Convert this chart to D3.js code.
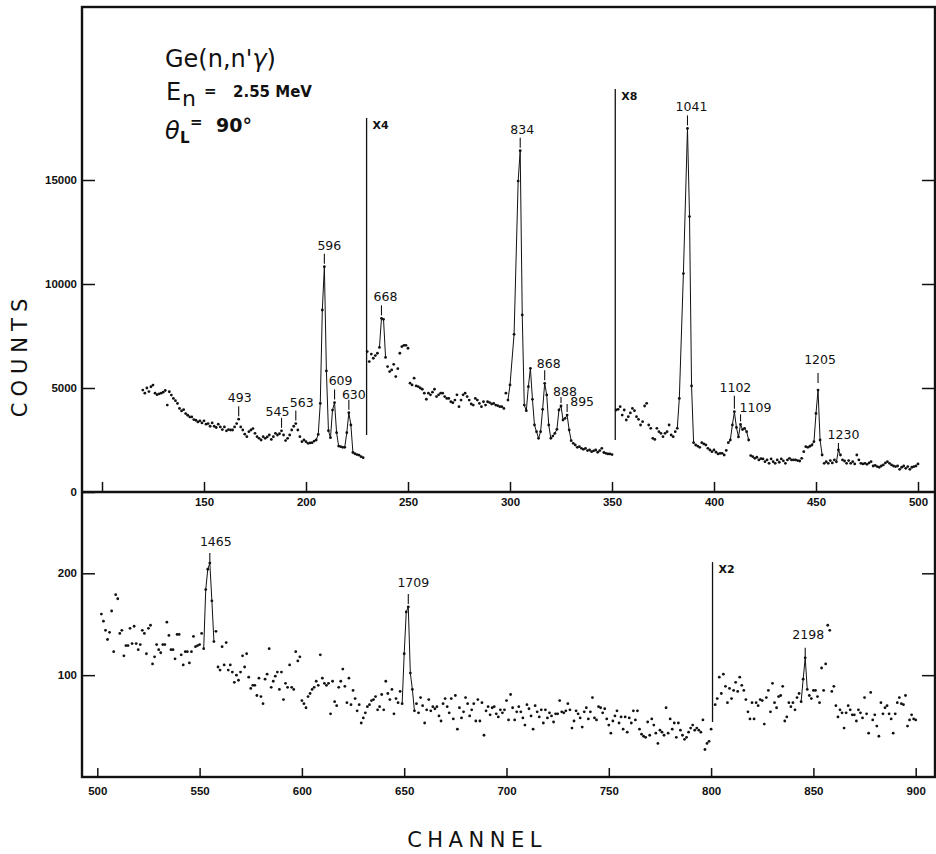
<!DOCTYPE html>
<html>
<head>
<meta charset="utf-8">
<script src="https://cdn.jsdelivr.net/npm/d3@7"></script>
<style>
  body { margin: 0; background: #fff; }
  svg { display: block; font-family: "DejaVu Sans", sans-serif; }
  .tick text { font-size: 11.5px; font-weight: bold; fill: #111; }
  .tick line { stroke: #111; stroke-width: 1.5; }
  .peak-label { font-size: 12.5px; fill: #111; text-anchor: middle; }
  .gain-label { font-size: 11px; font-weight: bold; fill: #111; }
  .axis-title { font-size: 21px; fill: #111; text-anchor: middle; }
</style>
</head>
<body>
<svg id="chart" width="936" height="854"></svg>
<script>
// DATA: one value per channel, null where no point is plotted

// upper panel, channels 120..500 (already scaled by the x4 / x8 factors)
const upperStart = 120;
const upperCounts = [
  4900, 4750, 5000, 4830, 5060, 5140, 4750, 4680, 4720, 4750, // 120
  4800, 4880, 4180, 4820, 4660, 4500, 4390, 4260, 4020, 3900, // 130
  3960, 3770, 3690, 3610, 3610, 3480, 3450, 3370, 3420, 3320, // 140
  3420, 3260, 3290, 3160, 3320, 3160, 3100, 3260, 3130, 3000, // 150
  3130, 2940, 3000, 2980, 2980, 3130, 3290, 3500, 3130, 2980, // 160
  2780, 2660, 2900, 2980, 3050, 2820, 2660, 2580, 2500, 2660, // 170
  2580, 2650, 2740, 2530, 2660, 2820, 2740, 2800, 2940, 2740, // 180
  2470, 2580, 2740, 2980, 3160, 3290, 2980, 2660, 2420, 2500, // 190
  2420, 2340, 2360, 2370, 2450, 2500, 2770, 4260, 8750, 10830, // 200
  5820, 2950, 2610, 3940, 4300, 2850, 2210, 2180, 2150, 2150, // 210
  2850, 3810, 3220, 1900, 1840, 1800, 1770, 1700, 1650, null, // 220
  6750, 6270, 6630, 6430, 6560, 6670, 6950, 8350, 8300, 6470, // 230
  6030, 5790, 5870, 6140, 5550, 5930, 6670, 6990, 7050, 7050, // 240
  6910, 5230, 5150, 5470, 5100, 5070, 5000, 4940, 4750, 4460, // 250
  4750, 4670, 4800, 4940, 4590, 4670, 4750, 4750, 4590, 4500, // 260
  4500, 4340, 4290, 4420, 4670, 4100, 4420, 4670, 4750, 4590, // 270
  4420, 4230, 4180, 4500, 4420, 4260, 4100, 4340, 4180, 4340, // 280
  4300, 4230, 4260, 4180, 4150, 4100, 4100, 4020, 4750, 4420, // 290
  5150, null, 7580, null, 14950, 16410, 8510, 4180, 3910, 5065, // 300
  5945, 4457, 3220, 2900, 2580, 2900, 3975, 5225, 4665, 3220, // 310
  2580, 2690, 2820, 3015, 3943, 4135, 3462, 3543, 3700, 2980, // 320
  2466, 2340, 2260, 2150, 2180, 2100, 2050, 2100, 1990, 2020, // 330
  1940, 1980, 2020, 1910, 1990, 2100, 1900, 1860, 1830, 1830, // 340
  1800, null, 3943, 3975, 4100, 3700, 3943, 3462, 3622, 3800, // 350
  4020, 3910, 3622, 3495, 3220, 3380, 4135, 4264, 3220, 3063, // 360
  2580, 2530, 3063, 2900, 2820, 2660, 2820, 2900, 3220, 2740, // 370
  2660, 2900, 3063, 4500, null, 10500, null, 17480, 13240, 5100, // 380
  2370, 2260, 2210, 2150, 2370, 2310, 2260, 2100, 2020, 1940, // 390
  2020, 1910, 1830, 1860, 1860, 1780, 2000, 2370, 2500, 3220, // 400
  3860, 3100, 2650, 3250, 3000, 3060, 2900, 2500, 1750, 1700, // 410
  1620, 1670, 1540, 1600, 1590, 1460, 1540, 1380, 1590, 1460, // 420
  1380, 1540, 1430, 1590, 1500, 1380, 1540, 1620, 1540, 1540, // 430
  1540, 1510, 1490, 1620, 1940, 2180, 2150, 2200, 2260, 2420, // 440
  3780, 4900, 2500, 1780, 1380, 1460, 1380, 1510, 1400, 1540, // 450
  1450, 2020, 1780, 1540, 1490, 1380, 1510, 1380, 1460, 1350, // 460
  1780, 1540, 1380, 1350, 1380, 1330, 1400, 1460, 1250, 1280, // 470
  1220, 1190, 1250, 1300, 1400, 1460, 1380, 1300, 1250, 1220, // 480
  1250, 1090, 1190, 1250, 1140, 1220, 1090, 1190, 1220, 1250, 1350 // 490..500
];

// lower panel, channels 502..900 (x2 from channel 801 on)
const lowerStart = 502;
const lowerCounts = [
  160, 153, 144, 135, 142, 163, 123, 179, 175, 141, // 502
  144, 119, 129, 129, 146, 131, 148, 131, 125, 130, // 512
  144, 141, 121, 146, 149, 111, 118, 130, 125, 122, // 522
  130, 130, 152, 139, 125, 125, 116, 140, 140, 120, // 532
  110, 123, 123, 112, 123, 138, 128, 129, 130, 141, // 542
  126, 184, 204, 210, 173, 133, 143, 108, 105, 128, // 552
  110, 132, 105, 110, 103, 93, 100, 95, 103, 119,   // 562
  108, 121, 98, 87, 90, 90, 80, 97, 79, 72,         // 572
  96, 101, 126, 88, 94, 99, 103, 86, 103, 76,       // 582
  92, 88, 110, 88, 86, 123, 114, 118, 75, 72,       // 592
  68, 79, 82, 86, 88, 94, 90, 120, 97, 92,          // 602
  90, 92, 62, 94, 74, 70, 88, 94, 106, 89,          // 612
  73, 97, 71, 85, 77, 65, 71, 53, 58, 63,           // 622
  69, 71, 75, 76, 79, 66, 69, 81, 66, 94,           // 632
  82, 76, 86, 62, 77, 73, 84, 72, 121, 162,         // 642
  167, 102, 86, 65, 72, 63, 78, 70, 53, 66,         // 652
  76, 65, 69, 67, 69, 60, 55, 72, 77, 69,           // 662
  63, 77, 57, 80, 47, 68, 58, 64, 78, 72,           // 672
  60, 66, 72, 55, 76, 55, 73, 41, 65, 69,           // 682
  61, 68, 69, 62, 59, 66, 63, 66, 75, 56,           // 692
  81, 68, 56, 64, 69, 64, 58, 51, 71, 67,           // 702
  60, 47, 70, 64, 59, 66, 53, 66, 58, 63,           // 712
  60, 54, 62, 62, 75, 64, 63, 65, 72, 66,           // 722
  48, 55, 65, 62, 58, 49, 64, 68, 57, 64,           // 732
  78, 58, 56, 69, 68, 63, 67, 57, 51, 43,           // 742
  55, 60, 65, 53, 59, 47, 59, 44, 58, 53,           // 752
  65, 56, 65, 47, 42, 40, 39, 54, 41, 57,           // 762
  51, 43, 33, 46, 44, 41, 68, 43, 57, 47,           // 772
  53, 39, 53, 46, 41, 37, 39, 44, 48, 51,           // 782
  46, 48, 46, 44, 56, 27, 33, 35, 47, null,         // 792
  71, 77, 98, 82, 101, 89, 73, 87, 77, 85,          // 802
  93, 84, 98, 90, 85, 76, 64, 57, 73, 57,           // 812
  73, 70, 76, 75, 52, 78, 85, 64, 92, 73,           // 822
  68, 79, 80, 89, 55, 59, 73, 69, 73, 66,           // 832
  78, 82, 74, 96, 117, 86, 80, 77, 85, 85,          // 842
  79, 73, 107, 85, 111, 149, 144, 84, 89, 70,       // 852
  59, 66, 63, 48, 63, 70, 66, 61, 61, 55,           // 862
  66, 63, 58, 78, 62, 43, 83, 56, 61, 50,           // 872
  40, 73, 62, 68, 70, 62, 57, 43, 62, 73,           // 882
  78, 72, 71, 80, 50, 56, 61, 57, 56                // 892..900
];

// channel runs whose points are joined by a line
const upperRuns = [[205, 223], [236, 239], [299, 330], [382, 390], [407, 417], [448, 453], [460, 462]];
const lowerRuns = [[552, 557], [649, 655], [844, 847]];

// axis ticks
const upperXTicks = [100, 150, 200, 250, 300, 350, 400, 450, 500];
const lowerXTicks = [500, 550, 600, 650, 700, 750, 800, 850, 900];
const upperYTicks = [0, 5000, 10000, 15000];
const lowerYTicks = [100, 200];

// peak energies (keV) and the channel of the peak
const peakNames = ["493", "545", "563", "596", "609", "630", "668", "834", "868", "888", "895", "1041", "1102", "1109", "1205", "1230", "1465", "1709", "2198"];
const peakChannels = [167, 188, 195, 209, 214, 221, 237, 305, 317, 325, 328, 387, 410, 413, 451, 461, 555, 652, 846];

// gain changes: label, channel, line from / to counts
const gainNames = ["X4", "X8", "X2"];
const gainChannels = [229.7, 351.6, 800.7];
const gainFrom = [2740, 2500, 54];
const gainTo = [17980, 19370, 211];

// LAYOUT
const frame = { left: 82, right: 935, top: 7, mid: 492, bottom: 777 };
// small hand-lettering offsets of some peak labels: dx, lift, tick length, label dy
const labelNudge = {
  "493": [1], "545": [-4, 0, 10, 2], "563": [6], "596": [5], "609": [6, 0, 10, -1], "630": [5, 0, 10, 3],
  "668": [4], "834": [2], "868": [4, 0, 10, 2], "888": [4, 0, 6, 3], "895": [15, 0, 8, 6],
  "1041": [4], "1102": [1, 0, 13, 0], "1109": [15, 0, 7, 2], "1205": [2, 4, 10, -5],
  "1230": [5, -3, 7, 0], "1465": [6, -3, 10, -3], "1709": [5, 0, 10, -3], "2198": [3, -3, 10, -5]
};

const svg = d3.select("#chart");

// SCALES
const xUpper = d3.scaleLinear().domain([100, 500]).range([102, 918]);
const yUpper = d3.scaleLinear().domain([0, 15000]).range([frame.mid, 180]);
const xLower = d3.scaleLinear().domain([500, 900]).range([97.3, 915.7]);
const yLower = d3.scaleLinear().domain([0, 200]).range([frame.bottom, 573.3]);

const panels = [
  { start: upperStart, counts: upperCounts, runs: upperRuns, x: xUpper, y: yUpper },
  { start: lowerStart, counts: lowerCounts, runs: lowerRuns, x: xLower, y: yLower }
];

// FRAME
svg.append("rect")
  .attr("x", frame.left).attr("y", frame.top)
  .attr("width", frame.right - frame.left).attr("height", frame.bottom - frame.top)
  .attr("fill", "none").attr("stroke", "#111").attr("stroke-width", 2.4);
svg.append("line")
  .attr("x1", frame.left).attr("x2", frame.right)
  .attr("y1", frame.mid).attr("y2", frame.mid)
  .attr("stroke", "#111").attr("stroke-width", 2.4);

// AXES
const plain = d3.format("d");
const axisUpX = svg.append("g")
  .attr("transform", `translate(0,${frame.mid})`)
  .call(d3.axisBottom(xUpper).tickValues(upperXTicks).tickSize(-10).tickPadding(6)
    .tickFormat(d => d === 100 ? "" : plain(d)));
const axisLowX = svg.append("g")
  .attr("transform", `translate(0,${frame.bottom})`)
  .call(d3.axisBottom(xLower).tickValues(lowerXTicks).tickSize(-9).tickPadding(10).tickFormat(plain));
const axisUpY = svg.append("g")
  .attr("transform", `translate(${frame.left},0)`)
  .call(d3.axisLeft(yUpper).tickValues(upperYTicks).tickSize(-13).tickPadding(5).tickFormat(plain));
const axisLowY = svg.append("g")
  .attr("transform", `translate(${frame.left},0)`)
  .call(d3.axisLeft(yLower).tickValues(lowerYTicks).tickSize(-13).tickPadding(5).tickFormat(plain));
const axisUpR = svg.append("g")
  .attr("transform", `translate(${frame.right},0)`)
  .call(d3.axisRight(yUpper).tickValues(upperYTicks.slice(1)).tickSize(-13).tickFormat(""));
const axisLowR = svg.append("g")
  .attr("transform", `translate(${frame.right},0)`)
  .call(d3.axisRight(yLower).tickValues(lowerYTicks).tickSize(-13).tickFormat(""));

[axisUpX, axisLowX, axisUpY, axisLowY, axisUpR, axisLowR].forEach(g => g.select(".domain").remove());

// SPECTRA: dots, with lines through the peaks
panels.forEach(p => {
  const pts = p.counts.map((v, i) => ({ ch: p.start + i, v: v })).filter(d => d.v != null);
  const line = d3.line().x(d => p.x(d.ch)).y(d => p.y(d.v));

  p.runs.forEach(([a, b]) => {
    svg.append("path")
      .datum(pts.filter(d => d.ch >= a && d.ch <= b))
      .attr("d", line)
      .attr("fill", "none")
      .attr("stroke", "#111")
      .attr("stroke-width", 1);
  });

  svg.append("g").selectAll("circle")
    .data(pts)
    .join("circle")
    .attr("cx", d => p.x(d.ch))
    .attr("cy", d => p.y(d.v))
    .attr("r", 1.4)
    .attr("fill", "#111");
});

// PEAK LABELS
peakNames.forEach((name, i) => {
  const ch = peakChannels[i];
  const p = ch > 500 ? panels[1] : panels[0];
  const v = p.counts[ch - p.start];
  const [dx = 0, lift = 0, len = 10, ldy = 0] = labelNudge[name] || [];
  const x = p.x(ch);
  const bottom = p.y(v) - 3 - lift;
  const top = bottom - len;
  svg.append("line")
    .attr("x1", x).attr("x2", x).attr("y1", top).attr("y2", bottom)
    .attr("stroke", "#111").attr("stroke-width", 1.1);
  svg.append("text")
    .attr("class", "peak-label")
    .attr("x", x + dx)
    .attr("y", top - 4 + ldy)
    .text(name);
});

// GAIN CHANGE MARKERS
gainNames.forEach((name, i) => {
  const p = gainChannels[i] > 500 ? panels[1] : panels[0];
  const x = p.x(gainChannels[i]);
  svg.append("line")
    .attr("x1", x).attr("x2", x)
    .attr("y1", p.y(gainFrom[i])).attr("y2", p.y(gainTo[i]))
    .attr("stroke", "#111").attr("stroke-width", 1.3);
  svg.append("text")
    .attr("class", "gain-label")
    .attr("x", x + 6)
    .attr("y", p.y(gainTo[i]) + 11)
    .text(name);
});

// AXIS TITLES
svg.append("text")
  .attr("class", "axis-title")
  .attr("transform", "translate(27,355) rotate(-90)")
  .attr("letter-spacing", 6)
  .text("COUNTS");
svg.append("text")
  .attr("class", "axis-title")
  .attr("x", 477).attr("y", 847)
  .attr("font-size", 22)
  .attr("letter-spacing", 5.5)
  .text("CHANNEL");

// REACTION NOTE
const note = svg.append("g").attr("fill", "#111");
const title = note.append("text").attr("x", 165).attr("y", 67).attr("font-size", 24);
title.append("tspan").text("Ge(n,n'");
title.append("tspan").attr("font-style", "italic").text("γ");
title.append("tspan").text(")");
note.append("text").attr("x", 166).attr("y", 100).attr("font-size", 24).text("E");
note.append("text").attr("x", 182).attr("y", 106).attr("font-size", 22).text("n");
note.append("text").attr("x", 204).attr("y", 96).attr("font-size", 15).attr("font-weight", "bold").text("=");
note.append("text").attr("x", 233).attr("y", 97).attr("font-size", 15).attr("font-weight", "bold").text("2.55 MeV");
note.append("text").attr("x", 165).attr("y", 139).attr("font-size", 24).attr("font-style", "italic").text("θ");
note.append("text").attr("x", 180).attr("y", 143).attr("font-size", 15).attr("font-weight", "bold").text("L");
note.append("text").attr("x", 190).attr("y", 127).attr("font-size", 15).attr("font-weight", "bold").text("=");
note.append("text").attr("x", 216).attr("y", 132).attr("font-size", 19).attr("font-weight", "bold").text("90°");
</script>
</body>
</html>
